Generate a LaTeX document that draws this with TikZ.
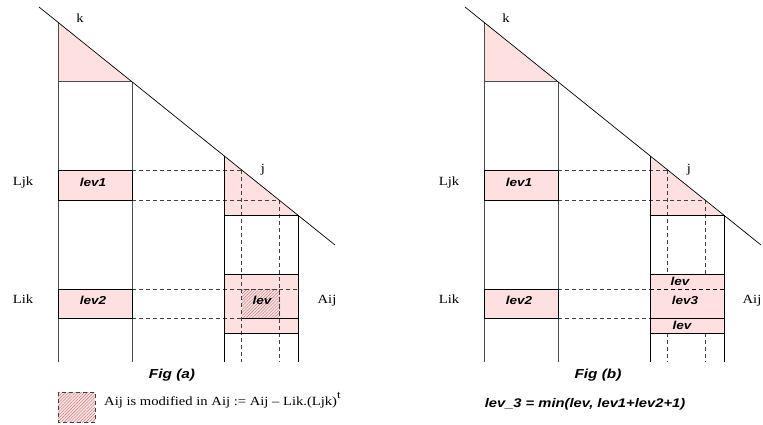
\documentclass[tikz,border=0pt]{standalone}
\usepackage{fontspec}
\setmainfont{Liberation Serif}[FakeStretch=1.17]
\setsansfont{Liberation Sans}[FakeStretch=1.18]
\usetikzlibrary{patterns.meta}
\definecolor{pinkf}{RGB}{255,224,224}
\definecolor{hatchc}{RGB}{180,120,120}
\tikzset{
  solidl/.style={draw=black, line width=0.8pt},
  grayl/.style={draw=black!70, line width=0.8pt},
  dashl/.style={draw=black!75, line width=0.7pt, dash pattern=on 4pt off 3pt},
  diagl/.style={draw=black, line width=0.7pt},
  pinkfill/.style={fill=pinkf},
  hatchfill/.style={fill=pinkf, postaction={pattern={Lines[angle=45,distance=2.2pt,line width=0.4pt]}, pattern color=hatchc}},
  serlab/.style={font=\fontsize{12.5}{14}\selectfont, inner sep=0pt, anchor=base},
  levlab/.style={font=\sffamily\bfseries\itshape\fontsize{11.5}{13}\selectfont, inner sep=0pt, anchor=base},
  figlab/.style={font=\sffamily\bfseries\itshape\fontsize{13}{15}\selectfont, inner sep=0pt, anchor=base},
}
\begin{document}
\begin{tikzpicture}[x=1pt,y=-1pt]
\useasboundingbox (0,0) rectangle (763,424);

% ================= Fig (a) =================
\coordinate (aD1) at (39,7);
\coordinate (aD2) at (335,245);
% pink fills
\fill[pinkfill] (58,22.3) -- (58,81.8) -- (132,81.8) -- cycle;
\fill[pinkfill] (224,155.8) -- (224,215.3) -- (298,215.3) -- cycle;
\fill[pinkfill] (224,274) rectangle (298,333);
\fill[pinkfill] (58,170) rectangle (132,200);
\fill[pinkfill] (58,289) rectangle (132,318);
\fill[hatchfill] (242,289) rectangle (280,318);
% dashed guide lines
\draw[dashl] (132,170) -- (241.7,170);
\draw[dashl] (132,200) -- (279.2,200);
\draw[dashl] (241.7,170) -- (241.7,362);
\draw[dashl] (279.2,200) -- (279.2,362);
\draw[dashl] (132,289) -- (298,289);
\draw[dashl] (132,318) -- (241.7,318);
\draw[dashl] (241.7,289) rectangle (279.2,318);
% solid lines
\draw[grayl] (58,22.3) -- (58,362);
\draw[grayl] (132,81.8) -- (132,362);
\draw[grayl] (58,81.8) -- (132,81.8);
\draw[solidl] (58,170) rectangle (132,200);
\draw[solidl] (58,289) rectangle (132,318);
\draw[solidl] (224,155.8) -- (224,362);
\draw[solidl] (298,215.3) -- (298,362);
\draw[solidl] (224,215.3) -- (298,215.3);
\draw[solidl] (224,274) rectangle (298,333);
\draw[solidl] (241.7,318) -- (298,318);
\draw[diagl] (aD1) -- (aD2);
% labels
\node[serlab] (ak) at (80,22.5) {k};
\node[serlab] (aj) at (263,172.5) {j};
\node[serlab] (aLjk) at (23,185.5) {Ljk};
\node[serlab] (aLik) at (23,303.7) {Lik};
\node[serlab] (aAij) at (327,303.7) {Aij};
\node[levlab] (alev1) at (93,186) {lev1};
\node[levlab] (alev2) at (93,304) {lev2};
\node[levlab] (alev) at (262,304.5) {lev};
\node[figlab] (afig) at (172,378) {Fig (a)};
% legend
\fill[hatchfill] (58,392) rectangle (95,422);
\draw[dashl] (58,392) rectangle (95,422);
\node[serlab, anchor=base west] (legend) at (104,405) {Aij is modified in Aij := Aij – Lik.(Ljk)\raisebox{1.1ex}{\fontsize{11}{12}\selectfont t}};

% ================= Fig (b) =================
\coordinate (bD1) at (465,7);
\coordinate (bD2) at (761,245);
\fill[pinkfill] (484,22.3) -- (484,81.8) -- (558,81.8) -- cycle;
\fill[pinkfill] (650,155.8) -- (650,215.3) -- (724,215.3) -- cycle;
\fill[pinkfill] (650,274) rectangle (724,333);
\fill[pinkfill] (484,170) rectangle (558,200);
\fill[pinkfill] (484,289) rectangle (558,318);
% dashed guide lines
\draw[dashl] (558,170) -- (667.7,170);
\draw[dashl] (558,200) -- (705.2,200);
\draw[dashl] (667.7,170) -- (667.7,274);
\draw[dashl] (705.2,200) -- (705.2,274);
\draw[dashl] (667.7,333) -- (667.7,362);
\draw[dashl] (705.2,333) -- (705.2,362);
\draw[dashl] (558,289) -- (650,289);
\draw[dashl] (558,318) -- (650,318);
\draw[dashl, draw=black] (650,289) -- (724,289);
% solid lines
\draw[grayl] (484,22.3) -- (484,362);
\draw[grayl] (558,81.8) -- (558,362);
\draw[grayl] (484,81.8) -- (558,81.8);
\draw[solidl] (484,170) rectangle (558,200);
\draw[solidl] (484,289) rectangle (558,318);
\draw[solidl] (650,155.8) -- (650,362);
\draw[solidl] (724,215.3) -- (724,362);
\draw[solidl] (650,215.3) -- (724,215.3);
\draw[solidl] (650,274) rectangle (724,333);
\draw[solidl] (650,318) -- (724,318);
\draw[diagl] (bD1) -- (bD2);
% labels
\node[serlab] (bk) at (506,22.5) {k};
\node[serlab] (bj) at (689,172.5) {j};
\node[serlab] (bLjk) at (449,185.5) {Ljk};
\node[serlab] (bLik) at (449,303.7) {Lik};
\node[serlab] (bAij) at (752,303.7) {Aij};
\node[levlab] (blev1) at (519,186) {lev1};
\node[levlab] (blev2) at (519,304) {lev2};
\node[levlab] (blevt) at (680,285.5) {lev};
\node[levlab] (blev3) at (685,304.5) {lev3};
\node[levlab] (blevb) at (682,329.5) {lev};
\node[figlab] (bfig) at (598,378) {Fig (b)};
\node[levlab, font=\sffamily\bfseries\itshape\fontsize{12.5}{14}\selectfont] (formula) at (585,407.3) {lev\_3 = min(lev, lev1+lev2+1)};
\end{tikzpicture}
\end{document}
